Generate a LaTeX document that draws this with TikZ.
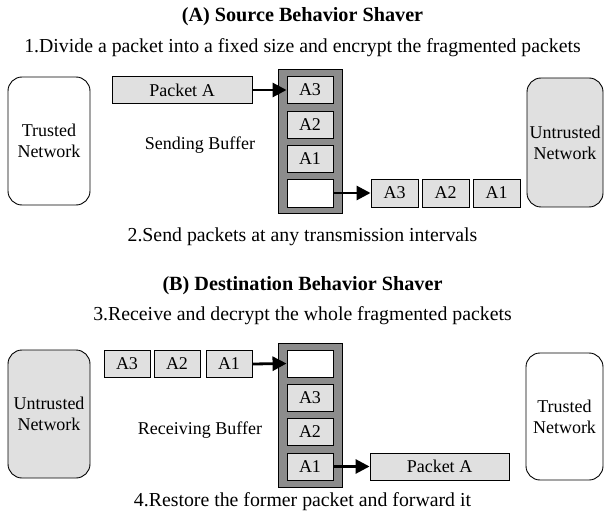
\documentclass[tikz,border=0pt]{standalone}
\usepackage{fontspec}
\setmainfont{Liberation Serif}
\usetikzlibrary{arrows.meta}
\definecolor{cellgray}{HTML}{E0E0E0}
\definecolor{bufgray}{HTML}{8C8C8C}
\tikzset{
  cell/.style={draw=black, line width=0.9pt, fill=cellgray, inner sep=0pt,
    minimum height=27pt, font=\fontsize{18}{20}\selectfont},
  emptycell/.style={cell, fill=white},
  buffer/.style={draw=black, line width=0.9pt, fill=bufgray, inner sep=0pt,
    minimum width=64pt, minimum height=144pt},
  net/.style={draw=black, line width=0.9pt, rounded corners=14pt, inner sep=0pt,
    align=center, font=\fontsize{18}{21}\selectfont},
  caption/.style={font=\fontsize{19.8}{22}\selectfont},
  heading/.style={font=\fontsize{20.2}{22}\selectfont\bfseries},
  label/.style={font=\fontsize{18}{20}\selectfont},
  flow/.style={-{Triangle[length=14pt,width=14pt]}, line width=2.8pt}
}
\begin{document}
\begin{tikzpicture}[x=1pt,y=-1pt]
\useasboundingbox (0,0) rectangle (605,513);

% ---- (A) source side ----
\node[heading] (titleA) at (302.5,17) {(A) Source Behavior Shaver};
\node[caption] (stepone) at (302.5,48) {1.Divide a packet into a fixed size and encrypt the fragmented packets};

\node[net, fill=white, minimum width=82pt, minimum height=128pt] (trustedA) at (49,141) {Trusted\\Network};
\node[net, fill=cellgray, minimum width=76pt, minimum height=129pt] (untrustedA) at (565,142.5) {Untrusted\\Network};

\node[cell, minimum width=140pt] (pktA) at (182,90) {Packet A};
\node[label] (sendbuf) at (200,145) {Sending Buffer};

\node[buffer] (bufA) at (310,141) {};
\node[cell, minimum width=46pt] (sA3) at (310,90) {A3};
\node[cell, minimum width=46pt] (sA2) at (310,124.5) {A2};
\node[cell, minimum width=46pt] (sA1) at (310,159) {A1};
\node[emptycell, minimum width=46pt, minimum height=28pt] (sE) at (310,193) {};

\node[cell, minimum width=47pt, minimum height=28pt] (oA3) at (394.5,193) {A3};
\node[cell, minimum width=47pt, minimum height=28pt] (oA2) at (445.5,193) {A2};
\node[cell, minimum width=47pt, minimum height=28pt] (oA1) at (496.5,193) {A1};

\draw[flow] (pktA.east) -- (sA3.west);
\draw[flow] (sE.east) -- (oA3.west);

\node[caption] (steptwo) at (302.5,237) {2.Send packets at any transmission intervals};

% ---- (B) destination side ----
\node[heading] (titleB) at (302.5,286) {(B) Destination Behavior Shaver};
\node[caption] (stepthree) at (302.5,316) {3.Receive and decrypt the whole fragmented packets};

\node[net, fill=cellgray, minimum width=82pt, minimum height=128pt] (untrustedB) at (49,414) {Untrusted\\Network};
\node[net, fill=white, minimum width=77pt, minimum height=127pt] (trustedB) at (564.5,416.5) {Trusted\\Network};

\node[cell, minimum width=46pt] (iA3) at (127,364) {A3};
\node[cell, minimum width=46pt] (iA2) at (177,364) {A2};
\node[cell, minimum width=46pt] (iA1) at (229,364) {A1};

\node[buffer] (bufB) at (310,415) {};
\node[emptycell, minimum width=46pt] (rE) at (310,363.5) {};
\node[cell, minimum width=46pt] (rA3) at (310,397.5) {A3};
\node[cell, minimum width=46pt] (rA2) at (310,431.5) {A2};
\node[cell, minimum width=46pt] (rA1) at (310,466.5) {A1};
\node[label] (recvbuf) at (200,430) {Receiving Buffer};

\node[cell, minimum width=139pt] (pktB) at (439.5,466.5) {Packet A};

\draw[flow] (iA1.east) -- (rE.west);
\draw[flow] (rA1.east) -- (pktB.west);

\node[caption] (stepfour) at (302.5,502) {4.Restore the former packet and forward it};
\end{tikzpicture}
\end{document}
